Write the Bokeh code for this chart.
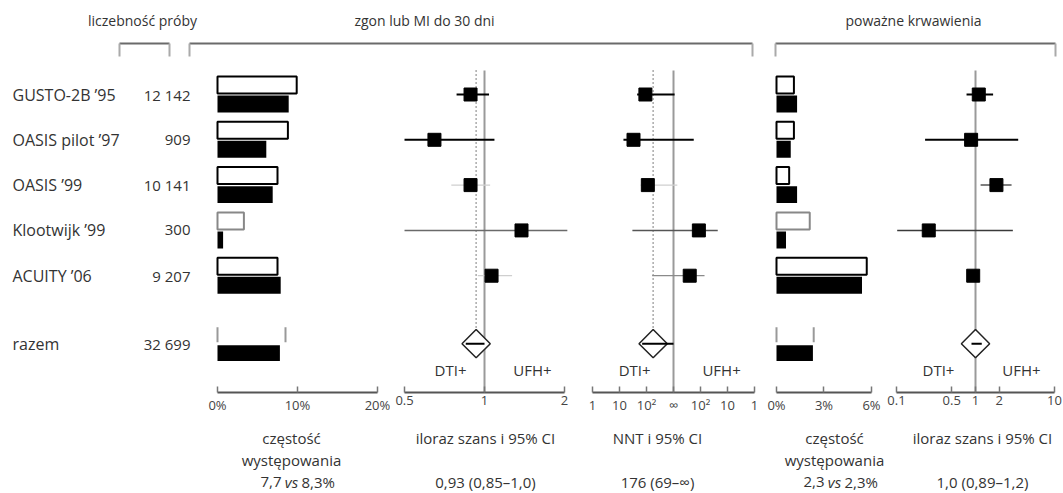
import math
from bokeh.plotting import figure
from bokeh.layouts import column, row
from bokeh.models import Range1d, FixedTicker, ColumnDataSource
from bokeh.transform import dodge
from bokeh.core.properties import value
from bokeh.embed import file_html
from bokeh.resources import INLINE

# ---------------- data ----------------
studies = ["GUSTO-2B ’95", "OASIS pilot ’97", "OASIS ’99", "Klootwijk ’99", "ACUITY ’06"]
sample_sizes = ["12 142", "909", "10 141", "300", "9 207"]
pooled_label = "razem"
pooled_size = "32 699"

# zgon lub MI do 30 dni – częstość występowania (%), UFH (white) / DTI (black)
death_ufh = [9.9, 8.8, 7.5, 3.3, 7.5]
death_dti = [8.9, 6.1, 6.9, 0.7, 7.9]
death_pooled_ufh = 8.5
death_pooled_dti = 7.8

# zgon lub MI – iloraz szans (95% CI)
or_death = [0.886, 0.648, 0.886, 1.378, 1.063]
or_death_lo = [0.785, 0.50, 0.75, 0.50, 0.944]
or_death_hi = [1.04, 1.09, 1.05, 2.05, 1.27]
or_death_pooled = [0.93, 0.85, 1.0]

# NNT (negative = benefit of DTI, positive = benefit of UFH)
nnt = [-91, -33, -112, 115, 251]
nnt_lo = [-45, -14, -60, -30, -162]
nnt_hi = [912, 178, 724, 23, 71]
nnt_pooled = [-176, -69, math.inf]

# poważne krwawienia – częstość (%)
bleed_ufh = [1.1, 1.1, 0.8, 2.1, 5.7]
bleed_dti = [1.3, 0.9, 1.3, 0.6, 5.4]
bleed_pooled_ufh = 2.35
bleed_pooled_dti = 2.3

# poważne krwawienia – iloraz szans (95% CI)
or_bleed = [1.10, 0.88, 1.84, 0.256, 0.935]
or_bleed_lo = [0.77, 0.23, 1.16, 0.102, 0.86]
or_bleed_hi = [1.67, 3.47, 2.86, 2.97, 1.02]
or_bleed_pooled = [1.0, 0.89, 1.2]

# axis ticks
rate1_ticks = [0, 10, 20]
rate1_labels = {0: "0%", 10: "10%", 20: "20%"}
or1_ticks = [0.5, 1, 2]
or1_labels = {0.5: "0.5", 1: "1", 2: "2"}
nnt_ticks = [-3, -2, -1, 0, 1, 2, 3]
nnt_labels = {-3: "1", -2: "10", -1: "10²", 0: "∞", 1: "10²", 2: "10", 3: "1"}
rate2_ticks = [0, 3, 6]
rate2_labels = {0: "0%", 3: "3%", 6: "6%"}
or2_ticks = [0.1, 0.5, 1, 2, 10]
or2_labels = {0.1: "0.1", 0.5: "0.5", 1: "1", 2: "2", 10: "10"}

footer_texts = [
    ["częstość", "występowania", None],
    ["iloraz szans i 95% CI", "", "0,93 (0,85–1,0)"],
    ["NNT i 95% CI", "", "176 (69–∞)"],
    ["częstość", "występowania", None],
    ["iloraz szans i 95% CI", "", "1,0 (0,89–1,2)"],
]
footer_vs = [("7,7", "8,3%"), None, None, ("2,3", "2,3%"), None]

# ---------------- layout constants ----------------
row_y = list(range(len(studies)))
pooled_y = 5.5
Y_TOP, Y_BOTTOM = -0.7506, 6.578
FONT = value("Open Sans")
TXT = "#333333"


def nnt_pos(n):
    if math.isinf(n):
        return 0.0
    return math.copysign(3 - math.log10(abs(n)), n)


def base_fig(width, height, x_range, y_range, x_axis_type="linear", axis=True, bottom=0):
    p = figure(width=width, height=height, x_range=x_range, y_range=y_range,
               x_axis_type=x_axis_type, output_backend="svg", toolbar_location=None,
               title=None, x_axis_location="below" if axis else None,
               y_axis_location=None, min_border_left=0, min_border_right=0,
               min_border_top=0, min_border_bottom=bottom)
    p.outline_line_color = None
    p.grid.visible = False
    p.background_fill_color = "white"
    p.border_fill_color = "white"
    return p


def style_axis(p, ticks, bounds, labels):
    ax = p.xaxis[0]
    ax.ticker = FixedTicker(ticks=ticks)
    ax.bounds = bounds
    ax.major_label_overrides = labels
    ax.axis_line_color = "#555555"
    ax.axis_line_width = 2
    ax.major_tick_in = 6
    ax.major_tick_out = 0
    ax.major_tick_line_color = "#777777"
    ax.major_tick_line_width = 1.5
    ax.minor_tick_line_color = None
    ax.major_label_text_font = "Open Sans"
    ax.major_label_text_font_size = "13px"
    ax.major_label_text_color = "#444444"
    ax.major_label_standoff = 3


PH = 360
yr = lambda: Range1d(Y_BOTTOM, Y_TOP)

# ---------------- label column ----------------
f0 = base_fig(200, PH, Range1d(0, 200), yr(), axis=False, bottom=28)
f0.text(x=12, y=row_y + [pooled_y], text=studies + [pooled_label], text_align="left",
        text_baseline="middle", text_font=FONT, text_font_size="16px", text_color=TXT)
f0.text(x=190, y=row_y + [pooled_y], text=sample_sizes + [pooled_size], text_align="right",
        text_baseline="middle", text_font=FONT, text_font_size="15px", text_color=TXT)


def rate_panel(width, xr, ufh, dti, p_ufh, p_dti, ticks, bounds, labels):
    p = base_fig(width, PH, xr, yr(), bottom=28)
    outline = ["black", "black", "black", "#888888", "black"]
    src = ColumnDataSource(dict(y=row_y, ufh=ufh, dti=dti, oc=outline))
    p.hbar(y=dodge("y", -0.21), height=0.375, left=0, right="ufh", fill_color="white",
           line_color="oc", line_width=2, source=src)
    p.hbar(y=dodge("y", 0.21), height=0.375, left=0, right="dti", fill_color="black",
           line_color=None, source=src)
    psrc = ColumnDataSource(dict(y=[pooled_y], dti=[p_dti]))
    p.hbar(y=dodge("y", 0.21), height=0.35, left=0, right="dti", fill_color="black",
           line_color=None, source=psrc)
    p.segment(x0=[0, p_ufh], x1=[0, p_ufh], y0=pooled_y - 0.36, y1=pooled_y - 0.03,
              line_color="#999999", line_width=2)
    style_axis(p, ticks, bounds, labels)
    return p


def forest_panel(width, xr, axis_type, est, lo, hi, pooled, ref, dotted, ci_colors, ci_w,
                 ticks, bounds, labels, dti_x, ufh_x):
    p = base_fig(width, PH, xr, yr(), x_axis_type=axis_type, bottom=28)
    p.segment(x0=[ref], x1=[ref], y0=-0.53, y1=Y_BOTTOM + 0.2, line_color="#9a9a9a", line_width=2)
    if dotted is not None:
        p.segment(x0=[dotted], x1=[dotted], y0=-0.53, y1=pooled_y - 0.3,
                  line_color="#555555", line_width=1.5, line_dash="1 3")
    src = ColumnDataSource(dict(y=row_y, est=est, lo=lo, hi=hi, c=ci_colors, w=ci_w))
    p.segment(x0="lo", x1="hi", y0="y", y1="y", line_color="c", line_width="w", source=src)
    p.scatter(x="est", y="y", marker="square", size=13, fill_color="black",
              line_color="black", source=src)
    p.scatter(x=[pooled[0]], y=[pooled_y], marker="square", angle=math.pi / 4, size=20,
              fill_color="white", line_color="#222222", line_width=1.5)
    p.segment(x0=[pooled[1]], x1=[pooled[2]], y0=pooled_y, y1=pooled_y,
              line_color="black", line_width=2)
    p.text(x=[dti_x, ufh_x], y=[6.09, 6.09], text=["DTI+", "UFH+"], text_align="center",
           text_baseline="middle", text_font=FONT, text_font_size="15px", text_color=TXT)
    style_axis(p, ticks, bounds, labels)
    return p


f1 = rate_panel(190, Range1d(-2.125, 21.625), death_ufh, death_dti, death_pooled_ufh,
                death_pooled_dti, rate1_ticks, (0, 20), rate1_labels)

f2 = forest_panel(187, Range1d(0.4428, 2.2387), "log", or_death, or_death_lo, or_death_hi,
                  or_death_pooled, 1, or_death_pooled[0],
                  ["black", "black", "#cfcfcf", "#6a6a6a", "#cfcfcf"], [2, 2, 1.2, 1.5, 1.2],
                  or1_ticks, (0.5, 2), or1_labels, 0.745, 1.516)

f3 = forest_panel(186, Range1d(-3.556, 3.333), "linear", [nnt_pos(v) for v in nnt],
                  [nnt_pos(v) for v in nnt_lo], [nnt_pos(v) for v in nnt_hi],
                  [nnt_pos(v) for v in nnt_pooled], 0, nnt_pos(nnt_pooled[0]),
                  ["black", "black", "#cfcfcf", "#555555", "#8a8a8a"], [2, 2, 1.2, 1.5, 1.2],
                  nnt_ticks, (-3, 3), nnt_labels, -1.44, 1.78)

f4 = rate_panel(120, Range1d(-0.821, 6.758), bleed_ufh, bleed_dti, bleed_pooled_ufh,
                bleed_pooled_dti, rate2_ticks, (0, 6), rate2_labels)

f5 = forest_panel(180, Range1d(0.06845, 12.997), "log", or_bleed, or_bleed_lo, or_bleed_hi,
                  or_bleed_pooled, 1, None,
                  ["black", "black", "#555555", "#3a3a3a", "#999999"], [2, 2, 1.5, 1.5, 1.2],
                  or2_ticks, (0.1, 10), or2_labels, 0.34, 3.82)

# ---------------- header ----------------
hdr = base_fig(1063, 60, Range1d(0, 1063), Range1d(60, 0), axis=False)
group_names = ["liczebność próby", "zgon lub MI do 30 dni", "poważne krwawienia"]
group_text_x = [142, 424, 913]
group_left = [119, 189, 775]
group_right = [169, 752, 1055]
hdr.text(x=group_text_x, y=20, text=group_names, text_align="center", text_baseline="middle",
         text_font=FONT, text_font_size="14px", text_color=TXT)
hdr.segment(x0=group_left, x1=group_right, y0=43, y1=43, line_color="#6a6a6a", line_width=2)
hdr.segment(x0=group_left + group_right, x1=group_left + group_right, y0=43, y1=56,
            line_color="#aaaaaa", line_width=2)

# ---------------- footer ----------------
ftr = base_fig(1063, 73, Range1d(0, 1063), Range1d(73, 0), axis=False)
footer_x = [291, 485, 657, 834, 982]
line_y = [17, 39, 61]
for cx, lines, vs in zip(footer_x, footer_texts, footer_vs):
    xs, ys, ts = [], [], []
    for ly, t in zip(line_y, lines):
        if t:
            xs.append(cx); ys.append(ly); ts.append(t)
    ftr.text(x=xs, y=ys, text=ts, text_align="center", text_baseline="middle",
             text_font=FONT, text_font_size="15px", text_color=TXT)
    if vs:
        ftr.text(x=[cx - 10], y=[line_y[2]], text=[vs[0]], text_align="right",
                 text_baseline="middle", text_font=FONT, text_font_size="15px", text_color=TXT)
        ftr.text(x=[cx], y=[line_y[2]], text=["vs"], text_align="center",
                 text_baseline="middle", text_font=FONT, text_font_size="15px",
                 text_font_style="italic", text_color=TXT)
        ftr.text(x=[cx + 10], y=[line_y[2]], text=[vs[1]], text_align="left",
                 text_baseline="middle", text_font=FONT, text_font_size="15px", text_color=TXT)

layout = column(hdr, row(f0, f1, f2, f3, f4, f5), ftr)
open("out.html", "w").write(file_html(layout, INLINE))
